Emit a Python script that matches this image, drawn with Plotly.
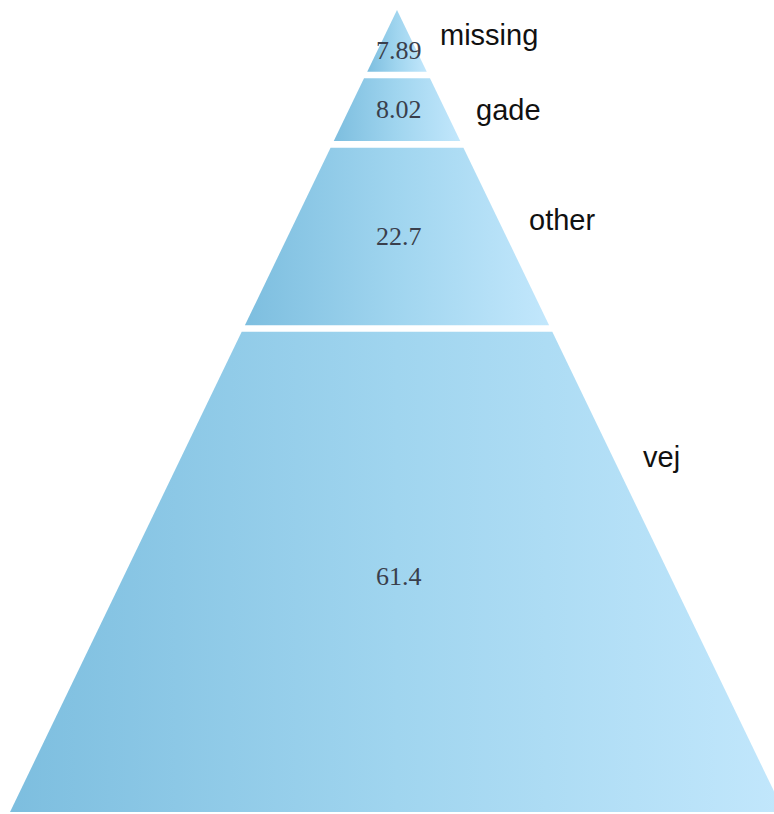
import plotly.graph_objects as go

# ---- data ----
categories = ["missing", "gade", "other", "vej"]
values = [7.89, 8.02, 22.7, 61.4]
value_text = ["7.89", "8.02", "22.7", "61.4"]

# ---- style / layout parameters ----
label_frac = [0.40, 0.50, 0.41, 0.26]   # vertical position of category label within segment
value_frac = [0.66, 0.50, 0.50, 0.51]   # vertical position of value text within segment
gap = 0.85          # white gap between segments (value units)
slope = 0.4825      # half-width per unit of depth
label_offset = 3.7  # distance of label from edge
W, H = 774, 814
apex_px_x, apex_px_y, bottom_px_y = 397, 10, 812
px_per_unit = (bottom_px_y - apex_px_y) / (sum(values) + gap * (len(values) - 1))

fig = go.Figure()
annotations = []
top = 0.0
for i, (cat, v) in enumerate(zip(categories, values)):
    bot = top + v
    xs = [-slope * top, slope * top, slope * bot, -slope * bot, -slope * top]
    ys = [top, top, bot, bot, top]
    fig.add_trace(go.Scatter(
        x=xs, y=ys, mode="lines", fill="toself",
        line=dict(width=0, color="rgba(0,0,0,0)"),
        fillgradient=dict(type="horizontal",
                          colorscale=[[0, "#7dbedf"], [0.5, "#a0d5ef"], [1, "#c2e7fc"]]),
        name=cat, hoverinfo="name", showlegend=False,
    ))
    ly = top + label_frac[i] * v
    annotations.append(dict(
        x=slope * ly + label_offset, y=ly, xref="x", yref="y",
        text=cat, showarrow=False, xanchor="left", yanchor="middle",
        font=dict(family="Liberation Sans, Arial", size=29, color="#111111"),
    ))
    vy = top + value_frac[i] * v
    annotations.append(dict(
        x=0.2, y=vy, xref="x", yref="y",
        text=value_text[i], showarrow=False, xanchor="center", yanchor="middle",
        font=dict(family="Liberation Serif, Times New Roman", size=26, color="#3a3f4c"),
    ))
    top = bot + gap

xmin = -apex_px_x / px_per_unit
xmax = (W - apex_px_x) / px_per_unit
ymin = -apex_px_y / px_per_unit
ymax = (H - apex_px_y) / px_per_unit

fig.update_layout(
    width=W, height=H,
    margin=dict(l=0, r=0, t=0, b=0),
    paper_bgcolor="white", plot_bgcolor="white",
    xaxis=dict(range=[xmin, xmax], visible=False, fixedrange=True),
    yaxis=dict(range=[ymax, ymin], visible=False, fixedrange=True),
    annotations=annotations,
    showlegend=False,
)

fig.write_html("out.html")
